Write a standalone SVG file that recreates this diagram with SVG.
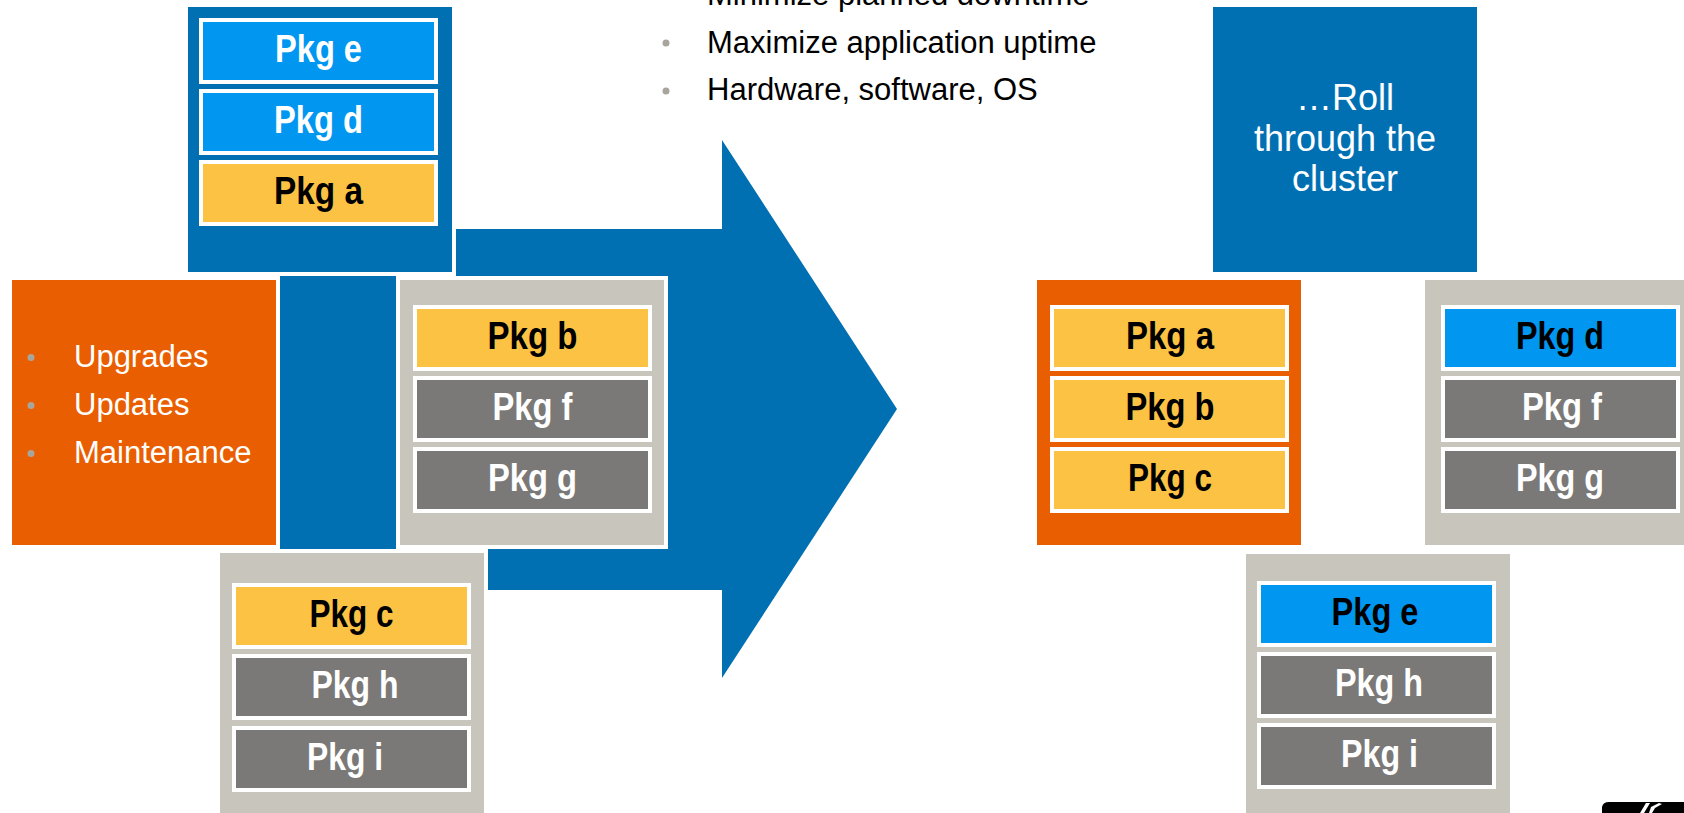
<svg xmlns="http://www.w3.org/2000/svg" width="1684" height="813" viewBox="0 0 1684 813">
<style>
.box{stroke:#fff;stroke-width:4}
.blue{fill:#0170B3}
.orange{fill:#E95E00}
.gray{fill:#C8C5BD}
.bar{stroke:#fff;stroke-width:4}
.lb{fill:#0197F1}
.yl{fill:#FCC244}
.dg{fill:#7A7977}
.lbl{font-family:"Liberation Sans",Arial,sans-serif;font-weight:bold;font-size:38px;text-anchor:middle}
.w{fill:#fff}
.k{fill:#000}
.bul{font-family:"Liberation Sans",Arial,sans-serif;font-size:31px}
.dot{fill:#A9A59D}
.roll{font-family:"Liberation Sans",Arial,sans-serif;font-size:36px;fill:#fff;text-anchor:middle}
</style>

<g id="connectors">
  <polygon id="arrow" class="blue" points="264,229 722,229 722,140 897,409 722,678 722,590 264,590"/>
</g>

<g id="top-bullets">
  <text class="bul k" x="707" y="5">Minimize planned downtime</text>
  <circle class="dot" cx="666" cy="43" r="3.5"/>
  <text class="bul k" x="707" y="53">Maximize application uptime</text>
  <circle class="dot" cx="666" cy="91" r="3.5"/>
  <text class="bul k" x="707" y="100">Hardware, software, OS</text>
</g>

<g id="node-left-top">
  <rect class="box blue" x="186" y="5" width="268" height="269"/>
  <rect class="bar lb" x="201" y="20" width="235" height="62"/>
  <text class="lbl w" x="318.5" y="62" textLength="87" lengthAdjust="spacingAndGlyphs">Pkg e</text>
  <rect class="bar lb" x="201" y="91" width="235" height="62"/>
  <text class="lbl w" x="318.5" y="133" textLength="89" lengthAdjust="spacingAndGlyphs">Pkg d</text>
  <rect class="bar yl" x="201" y="162" width="235" height="62"/>
  <text class="lbl k" x="318.5" y="204" textLength="89" lengthAdjust="spacingAndGlyphs">Pkg a</text>
</g>

<g id="node-left-orange">
  <rect class="box orange" x="10" y="278" width="268" height="269"/>
  <circle class="dot" cx="31" cy="357.5" r="3.5"/>
  <text class="bul w" x="74" y="367">Upgrades</text>
  <circle class="dot" cx="31" cy="405.5" r="3.5"/>
  <text class="bul w" x="74" y="415">Updates</text>
  <circle class="dot" cx="31" cy="453.5" r="3.5"/>
  <text class="bul w" x="74" y="463">Maintenance</text>
</g>

<g id="node-left-bfg">
  <rect class="box gray" x="398" y="278" width="268" height="269"/>
  <rect class="bar yl" x="415" y="307" width="235" height="62"/>
  <text class="lbl k" x="532.5" y="349" textLength="90" lengthAdjust="spacingAndGlyphs">Pkg b</text>
  <rect class="bar dg" x="415" y="378" width="235" height="62"/>
  <text class="lbl w" x="532.5" y="420" textLength="80" lengthAdjust="spacingAndGlyphs">Pkg f</text>
  <rect class="bar dg" x="415" y="449" width="235" height="62"/>
  <text class="lbl w" x="532.5" y="491" textLength="89" lengthAdjust="spacingAndGlyphs">Pkg g</text>
</g>

<g id="node-left-chi">
  <rect class="box gray" x="218" y="551" width="268" height="280"/>
  <rect class="bar yl" x="234" y="585" width="235" height="62"/>
  <text class="lbl k" x="351.5" y="627" textLength="84" lengthAdjust="spacingAndGlyphs">Pkg c</text>
  <rect class="bar dg" x="234" y="656" width="235" height="62"/>
  <text class="lbl w" x="355" y="698" textLength="87" lengthAdjust="spacingAndGlyphs">Pkg h</text>
  <rect class="bar dg" x="234" y="728" width="235" height="62"/>
  <text class="lbl w" x="345" y="770" textLength="76" lengthAdjust="spacingAndGlyphs">Pkg i</text>
</g>

<g id="node-roll">
  <rect class="blue" x="1213" y="7" width="264" height="265"/>
  <text class="roll" x="1345" y="110">…Roll</text>
  <text class="roll" x="1345" y="151">through the</text>
  <text class="roll" x="1345" y="191">cluster</text>
</g>

<g id="node-right-abc">
  <rect class="orange" x="1037" y="280" width="264" height="265"/>
  <rect class="bar yl" x="1052" y="307" width="235" height="62"/>
  <text class="lbl k" x="1170" y="349" textLength="88" lengthAdjust="spacingAndGlyphs">Pkg a</text>
  <rect class="bar yl" x="1052" y="378" width="235" height="62"/>
  <text class="lbl k" x="1170" y="420" textLength="89" lengthAdjust="spacingAndGlyphs">Pkg b</text>
  <rect class="bar yl" x="1052" y="449" width="235" height="62"/>
  <text class="lbl k" x="1170" y="491" textLength="84" lengthAdjust="spacingAndGlyphs">Pkg c</text>
</g>

<g id="node-right-dfg">
  <rect class="gray" x="1425" y="280" width="264" height="265"/>
  <rect class="bar lb" x="1443" y="307" width="235" height="62"/>
  <text class="lbl k" x="1560" y="349" textLength="88" lengthAdjust="spacingAndGlyphs">Pkg d</text>
  <rect class="bar dg" x="1443" y="378" width="235" height="62"/>
  <text class="lbl w" x="1562" y="420" textLength="80" lengthAdjust="spacingAndGlyphs">Pkg f</text>
  <rect class="bar dg" x="1443" y="449" width="235" height="62"/>
  <text class="lbl w" x="1560" y="491" textLength="88" lengthAdjust="spacingAndGlyphs">Pkg g</text>
</g>

<g id="node-right-ehi">
  <rect class="gray" x="1246" y="554" width="264" height="270"/>
  <rect class="bar lb" x="1259" y="583" width="235" height="62"/>
  <text class="lbl k" x="1375" y="625" textLength="87" lengthAdjust="spacingAndGlyphs">Pkg e</text>
  <rect class="bar dg" x="1259" y="654" width="235" height="62"/>
  <text class="lbl w" x="1379" y="696" textLength="88" lengthAdjust="spacingAndGlyphs">Pkg h</text>
  <rect class="bar dg" x="1259" y="725" width="235" height="62"/>
  <text class="lbl w" x="1379.5" y="767" textLength="77" lengthAdjust="spacingAndGlyphs">Pkg i</text>
</g>

<g id="logo">
  <path d="M1602,813 L1602,807 Q1603,802 1609,802 L1684,802 L1684,813 Z" fill="#000"/>
  <polygon points="1640,813 1644,813 1650,803 1646,803" fill="#fff"/>
  <polygon points="1652,813 1655,808 1662,804 1659,803 1651,807 1649,813" fill="#fff"/>
</g>
</svg>
